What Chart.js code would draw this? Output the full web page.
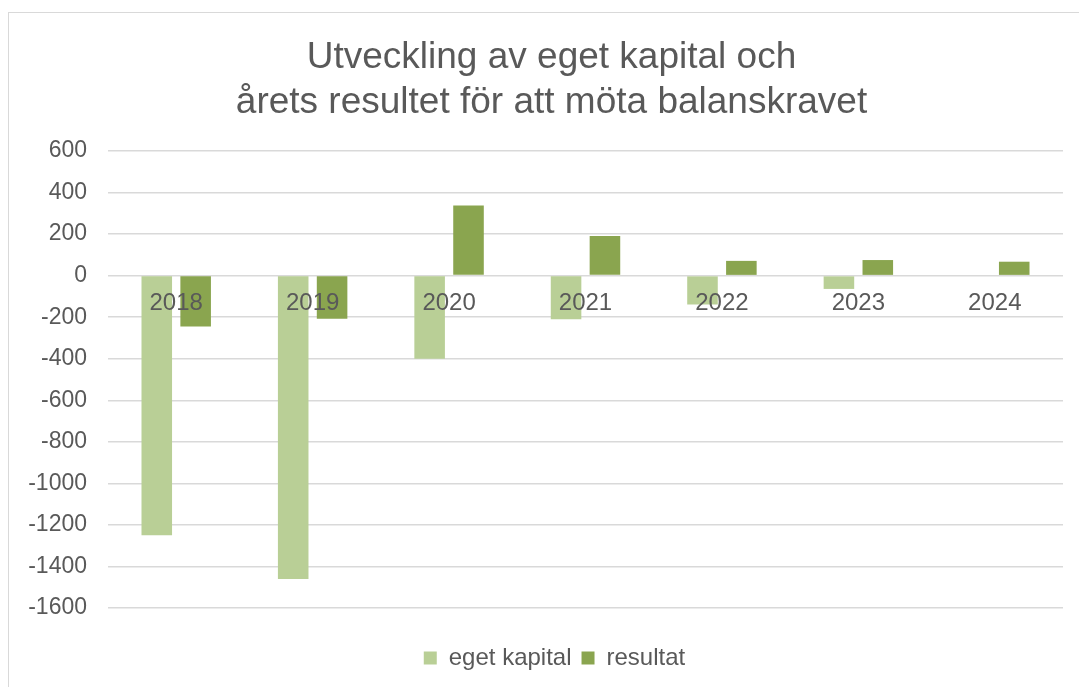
<!DOCTYPE html>
<html>
<head>
<meta charset="utf-8">
<script src="https://cdn.jsdelivr.net/npm/chart.js@4"></script>
<style>
	html, body { margin: 0; padding: 0; background: #ffffff; }
	#frame {
		position: absolute;
		left: 8px;
		top: 12px;
		width: 1200px;
		height: 800px;
		border: 1px solid #d9d9d9;
	}
	#wrap { position: absolute; left: 0; top: 0; width: 1079px; height: 687px; }
</style>
</head>
<body>
<div id="frame"></div>
<div id="wrap"><canvas id="balansChart" width="1079" height="687"></canvas></div>
<script>
const years = ["2018", "2019", "2020", "2021", "2022", "2023", "2024"];
const egetKapital = [-1250, -1460, -400, -210, -139, -64, 0];
const resultat = [-245, -207, 337, 191, 71, 75, 67];
const yTicks = [600, 400, 200, 0, -200, -400, -600, -800, -1000, -1200, -1400, -1600];

const textColor = "#595959";
const grid = "#d9d9d9";

Chart.defaults.font.family = "'Liberation Sans', Arial, sans-serif";
Chart.defaults.color = textColor;

// title and legend sit a bit right of the canvas centre in the original
const blockShift = {
	id: "blockShift",
	afterLayout(chart) {
		chart.legend.left += 23;
		chart.legend.right += 23;
		chart.titleBlock.left += 20;
		chart.titleBlock.right += 20;
	},
};

new Chart(document.getElementById("balansChart"), {
	type: "bar",
	data: {
		labels: years,
		datasets: [
			{
				label: "eget kapital",
				data: egetKapital,
				backgroundColor: "#b9cf96",
				categoryPercentage: 0.57,
				barPercentage: 0.786,
			},
			{
				label: "resultat",
				data: resultat,
				backgroundColor: "#8aa54f",
				categoryPercentage: 0.57,
				barPercentage: 0.786,
			},
		],
	},
	options: {
		responsive: false,
		animation: false,
		layout: { padding: { left: 0, right: 16, top: 0, bottom: 7 } },
		plugins: {
			title: {
				display: true,
				text: ["Utveckling av eget kapital och", "årets resultet för att möta balanskravet"],
				font: { size: 37, weight: "normal", lineHeight: 1.216 },
				color: textColor,
				padding: { top: 35, bottom: 26 },
			},
			legend: {
				position: "bottom",
				title: { display: true, text: "", font: { size: 10 }, padding: { top: 16, bottom: 0 } },
				labels: {
					boxWidth: 13,
					boxHeight: 13,
					padding: 10,
					font: { size: 24 },
					color: textColor,
				},
			},
			tooltip: { enabled: false },
		},
		scales: {
			x: {
				position: { y: 0 },
				grid: { display: false, drawTicks: false },
				border: { display: false },
				ticks: { z: 1, padding: 13, font: { size: 24 }, color: textColor, maxRotation: 0 },
			},
			y: {
				min: -1600,
				max: 600,
				afterFit: (scale) => { scale.width = 108; },
				afterBuildTicks: (scale) => { scale.ticks = yTicks.map((v) => ({ value: v })); },
				grid: { color: grid, lineWidth: 1.5, drawTicks: false },
				border: { display: false },
				ticks: {
					padding: 21,
					font: { size: 23 },
					color: textColor,
					callback: (value) => String(value),
				},
			},
		},
	},
	plugins: [blockShift],
});
</script>
</body>
</html>
